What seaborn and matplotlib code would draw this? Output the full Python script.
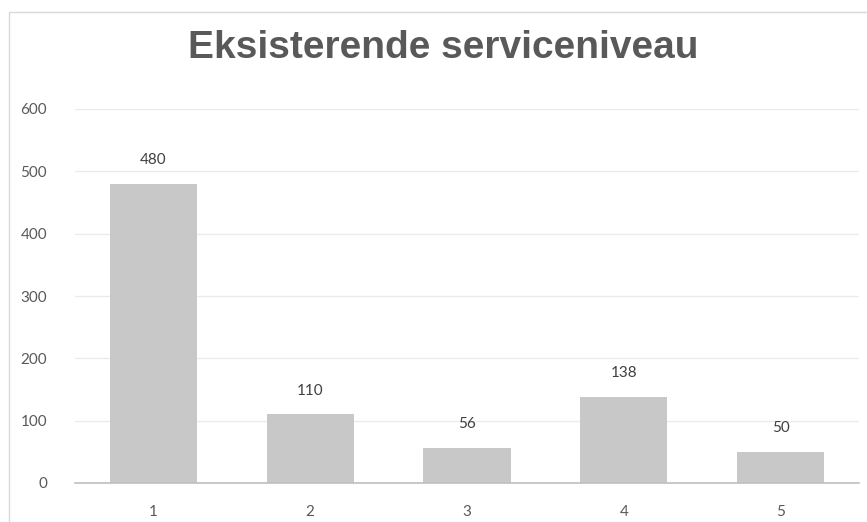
import matplotlib
matplotlib.use("Agg")
import matplotlib.pyplot as plt
import seaborn as sns
import pandas as pd
from matplotlib.patches import Rectangle

categories = ["1", "2", "3", "4", "5"]
values = [480, 110, 56, 138, 50]
yticks = [0, 100, 200, 300, 400, 500, 600]
title = "Eksisterende serviceniveau"

sns.set_theme(style="white")
plt.rcParams['font.family'] = ['Lato', 'DejaVu Sans']

df = pd.DataFrame({"cat": categories, "val": values})

fig = plt.figure(figsize=(8.67, 5.22), dpi=100)
W, H = 867, 522
ax = fig.add_axes([75 / W, 1 - 483 / H, (859 - 75) / W, (483 - 109) / H])

sns.barplot(data=df, x="cat", y="val", color="#c8c8c8", width=0.555,
            saturation=1, ax=ax, edgecolor="none")

ax.set_ylim(0, 600)
ax.set_xlim(-0.5, 4.5)
ax.set_yticks(yticks)
ax.set_yticklabels([str(t) for t in yticks])
ax.yaxis.grid(True, color="#ebebeb", linewidth=1)
ax.set_axisbelow(True)
for s in ["top", "right", "left"]:
    ax.spines[s].set_visible(False)
ax.spines["bottom"].set_color("#bfbfbf")
ax.spines["bottom"].set_linewidth(1.2)
ax.set_xlabel("")
ax.set_ylabel("")
ax.tick_params(axis="y", length=0, pad=20, labelsize=11, labelcolor="#595959")
ax.tick_params(axis="x", length=0, pad=16, labelsize=11, labelcolor="#595959")
for lab in ax.get_yticklabels():
    lab.set_horizontalalignment("right")

for c in ax.containers:
    ax.bar_label(c, labels=[str(v) for v in values], padding=12,
                 fontsize=11, color="#404040")

fig.text(443 / W, 1 - 48 / H, title, ha="center", va="center",
         fontsize=28, fontweight="bold", color="#595959",
         family=['Liberation Sans', 'DejaVu Sans'])

fig.patches.append(Rectangle((9 / W, -0.1), 2, 1 - 12 / H + 0.1, transform=fig.transFigure,
                             fill=False, edgecolor="#d9d9d9", linewidth=1))

fig.savefig("out.png", dpi=100)
